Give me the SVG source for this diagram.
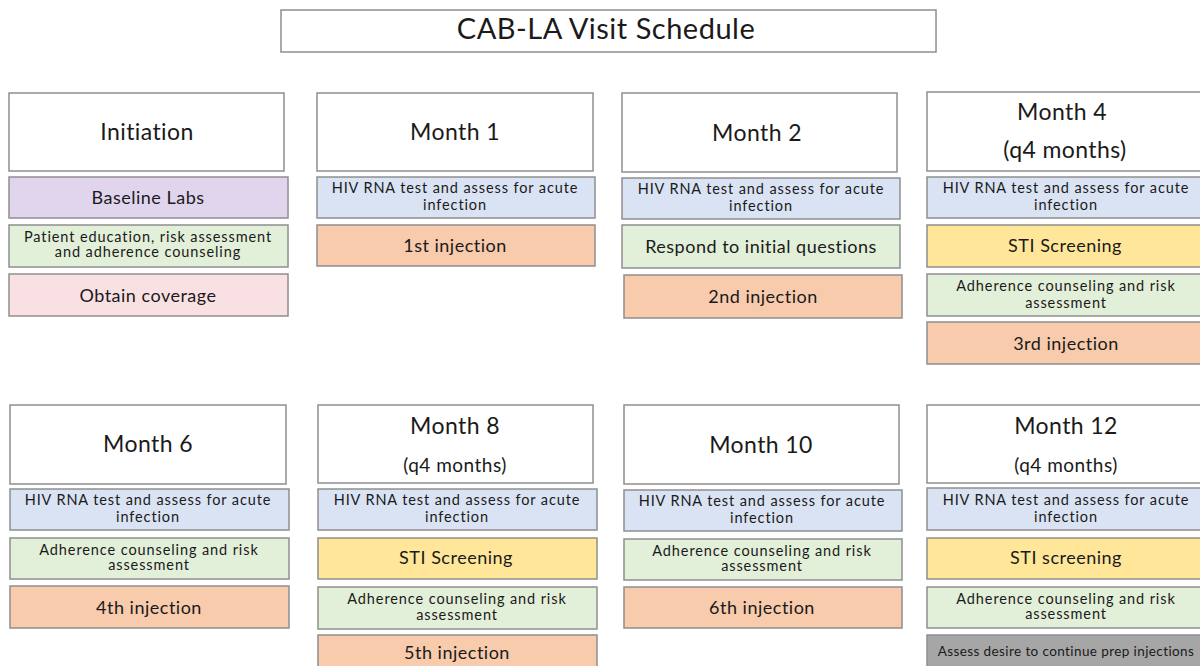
<svg xmlns="http://www.w3.org/2000/svg" width="1200" height="666" viewBox="0 0 1200 666">
<style>
rect{stroke:#8f8f8f;stroke-width:1.5}
.hd{fill:#fff}
.pu{fill:#e1d5ee}.gr{fill:#e2efd9}.pk{fill:#f9e0e3}.bl{fill:#dae3f3}.or{fill:#f8cbad}.ye{fill:#ffe699}.gy{fill:#a6a6a6}
text{font-family:Lato,"Open Sans",sans-serif;fill:#1a1a1a;text-anchor:middle;dominant-baseline:central}
.h{font-size:23px;letter-spacing:0.4px}.s{font-size:18px;letter-spacing:0.5px}.t{font-size:14.5px;letter-spacing:0.9px}.q{font-size:19px;letter-spacing:0.5px}
.ti{font-size:29px;letter-spacing:0.5px}.a{font-size:13.5px;letter-spacing:0.4px}
</style>
<g id="title"><rect class="hd" x="281" y="10" width="655" height="42"/><text class="ti" x="606" y="27">CAB-LA Visit Schedule</text></g>

<g id="initiation">
<rect class="hd" x="9" y="93" width="275" height="78"/><text class="h" x="147" y="131">Initiation</text>
<rect class="pu" x="9" y="177" width="279" height="41"/><text class="s" x="148" y="197">Baseline Labs</text>
<rect class="gr" x="9" y="225" width="279" height="42"/><text class="t" x="148" y="236">Patient education, risk assessment</text><text class="t" x="148" y="251">and adherence counseling</text>
<rect class="pk" x="9" y="274" width="279" height="42"/><text class="s" x="148" y="295">Obtain coverage</text>
</g>

<g id="month1">
<rect class="hd" x="317" y="93" width="276" height="78"/><text class="h" x="455" y="131">Month 1</text>
<rect class="bl" x="317" y="177" width="278" height="41"/><text class="t" x="455" y="187">HIV RNA test and assess for acute</text><text class="t" x="455" y="204">infection</text>
<rect class="or" x="317" y="225" width="278" height="41"/><text class="s" x="455" y="245">1st injection</text>
</g>

<g id="month2">
<rect class="hd" x="622" y="93" width="275" height="79"/><text class="h" x="757" y="132">Month 2</text>
<rect class="bl" x="622" y="178" width="278" height="41"/><text class="t" x="761" y="188">HIV RNA test and assess for acute</text><text class="t" x="761" y="205">infection</text>
<rect class="gr" x="622" y="225" width="278" height="43"/><text class="s" x="761" y="246">Respond to initial questions</text>
<rect class="or" x="624" y="275" width="278" height="43"/><text class="s" x="763" y="296">2nd injection</text>
</g>

<g id="month4">
<rect class="hd" x="927" y="92" width="276" height="79"/><text class="h" x="1062" y="111">Month 4</text><text class="h" x="1065" y="149">(q4 months)</text>
<rect class="bl" x="927" y="177" width="278" height="41"/><text class="t" x="1066" y="187">HIV RNA test and assess for acute</text><text class="t" x="1066" y="204">infection</text>
<rect class="ye" x="927" y="225" width="278" height="42"/><text class="s" x="1065" y="245">STI Screening</text>
<rect class="gr" x="927" y="274" width="278" height="42"/><text class="t" x="1066" y="285">Adherence counseling and risk</text><text class="t" x="1066" y="302">assessment</text>
<rect class="or" x="927" y="322" width="278" height="42"/><text class="s" x="1066" y="343">3rd injection</text>
</g>

<g id="month6">
<rect class="hd" x="10" y="405" width="276" height="79"/><text class="h" x="148" y="443">Month 6</text>
<rect class="bl" x="10" y="489" width="279" height="41"/><text class="t" x="148" y="499">HIV RNA test and assess for acute</text><text class="t" x="148" y="516">infection</text>
<rect class="gr" x="10" y="538" width="279" height="41"/><text class="t" x="149" y="549">Adherence counseling and risk</text><text class="t" x="149" y="564">assessment</text>
<rect class="or" x="10" y="586" width="279" height="42"/><text class="s" x="149" y="607">4th injection</text>
</g>

<g id="month8">
<rect class="hd" x="318" y="405" width="275" height="78"/><text class="h" x="455" y="425">Month 8</text><text class="q" x="455" y="464">(q4 months)</text>
<rect class="bl" x="318" y="489" width="279" height="41"/><text class="t" x="457" y="499">HIV RNA test and assess for acute</text><text class="t" x="457" y="516">infection</text>
<rect class="ye" x="318" y="538" width="279" height="41"/><text class="s" x="456" y="557">STI Screening</text>
<rect class="gr" x="318" y="587" width="279" height="42"/><text class="t" x="457" y="598">Adherence counseling and risk</text><text class="t" x="457" y="614">assessment</text>
<rect class="or" x="318" y="635" width="279" height="40"/><text class="s" x="457" y="652">5th injection</text>
</g>

<g id="month10">
<rect class="hd" x="624" y="405" width="275" height="79"/><text class="h" x="761" y="444">Month 10</text>
<rect class="bl" x="624" y="490" width="278" height="41"/><text class="t" x="762" y="500">HIV RNA test and assess for acute</text><text class="t" x="762" y="517">infection</text>
<rect class="gr" x="624" y="539" width="278" height="41"/><text class="t" x="762" y="550">Adherence counseling and risk</text><text class="t" x="762" y="565">assessment</text>
<rect class="or" x="624" y="587" width="278" height="41"/><text class="s" x="762" y="607">6th injection</text>
</g>

<g id="month12">
<rect class="hd" x="927" y="405" width="276" height="78"/><text class="h" x="1066" y="425">Month 12</text><text class="q" x="1066" y="464">(q4 months)</text>
<rect class="bl" x="927" y="488" width="278" height="42"/><text class="t" x="1066" y="499">HIV RNA test and assess for acute</text><text class="t" x="1066" y="516">infection</text>
<rect class="ye" x="927" y="538" width="278" height="41"/><text class="s" x="1066" y="557">STI screening</text>
<rect class="gr" x="927" y="587" width="278" height="41"/><text class="t" x="1066" y="598">Adherence counseling and risk</text><text class="t" x="1066" y="613">assessment</text>
<rect class="gy" x="927" y="635" width="278" height="40"/><text class="a" x="1066" y="651">Assess desire to continue prep injections</text>
</g>
<g id="connectors"/>
</svg>
